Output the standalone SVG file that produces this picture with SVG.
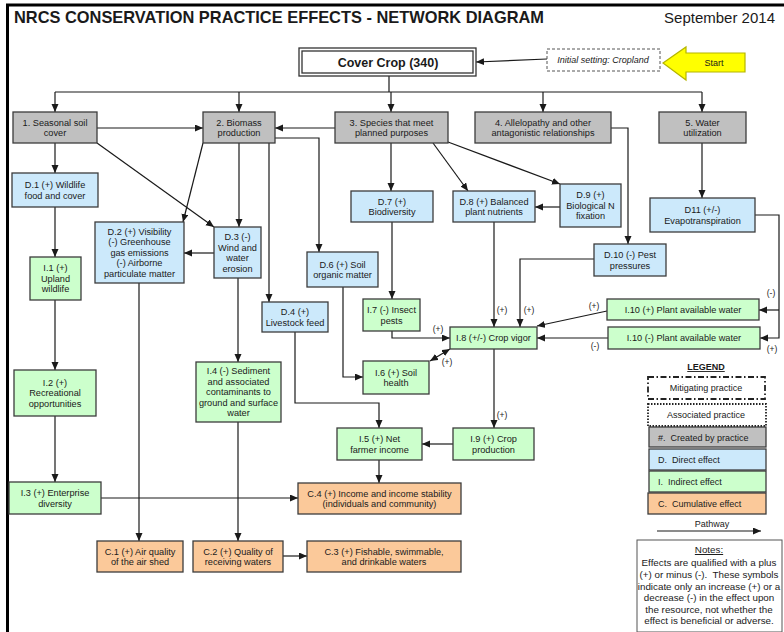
<svg xmlns="http://www.w3.org/2000/svg" width="784" height="632" viewBox="0 0 784 632">
<style>
text{font-family:"Liberation Sans",Arial,sans-serif;fill:#1a1a1a}
.t{font-size:9.2px;text-anchor:middle}
.box{stroke:#3c3c3c;stroke-width:1.3}
.g{fill:#c0c0c0}.b{fill:#cce9fb}.n{fill:#ccffcc}.o{fill:#fbc99a}
.c{fill:none;stroke:#1a1a1a;stroke-width:1.2}
.a{marker-end:url(#ah)}
.lbl{font-size:8.5px;text-anchor:middle}
.lg{font-size:9px}
.nt{font-size:9.8px;text-anchor:middle}
</style>
<defs>
<marker id="ah" markerUnits="userSpaceOnUse" markerWidth="9" markerHeight="8" refX="8" refY="3.5" orient="auto-start-reverse">
<path d="M0,0 L8,3.5 L0,7 z" fill="#1a1a1a"/>
</marker>
</defs>
<rect width="784" height="632" fill="#ffffff"/>
<g id="frame" fill="none" stroke="#000" stroke-width="3">
<line x1="6" y1="5" x2="784" y2="5"/>
<line x1="7.5" y1="4" x2="7.5" y2="632"/>
</g>
<g id="title">
<text x="14" y="23" style="font-size:16.4px;font-weight:bold">NRCS CONSERVATION PRACTICE EFFECTS - NETWORK DIAGRAM</text>
<text x="775" y="23" style="font-size:15px;text-anchor:end">September 2014</text>
</g>
<g id="connectors">
<path class="c a" d="M547,59 L476,62"/>
<path class="c" d="M389,76 V92 M55,92 H702"/>
<path class="c a" d="M55,92 V112"/>
<path class="c a" d="M239,92 V112"/>
<path class="c a" d="M391,92 V112"/>
<path class="c a" d="M543,92 V112"/>
<path class="c a" d="M702,92 V112"/>
<path class="c a" d="M97,128 H203"/>
<path class="c a" d="M335,128 H275"/>
<path class="c a" d="M55,143 V173"/>
<path class="c a" d="M97,143 L214,227"/>
<path class="c a" d="M203,143 L183,222"/>
<path class="c a" d="M239,143 V227"/>
<path class="c a" d="M269,143 V302"/>
<path class="c a" d="M275,138 H319 V252"/>
<path class="c a" d="M391,143 V191"/>
<path class="c a" d="M433,143 L468,191"/>
<path class="c a" d="M448,142 L560,184"/>
<path class="c a" d="M560,207 H535"/>
<path class="c a" d="M611,128 H628 V244"/>
<path class="c a" d="M702,143 V198"/>
<path class="c a" d="M755,215 H779 V338 H760"/>
<path class="c a" d="M779,310 H759"/>
<path class="c a" d="M607,311 L537,326"/>
<path class="c a" d="M608,338 H537"/>
<path class="c a" d="M594,259 H520 V327"/>
<path class="c a" d="M494,222 V327"/>
<path class="c a" d="M392,222 V299"/>
<path class="c a" d="M392,331 V338 H450"/>
<path class="c a" d="M430,361 L450,349" style="marker-start:url(#ah)"/>
<path class="c a" d="M343,287 V377 H363"/>
<path class="c a" d="M295,332 V403 H379 V428"/>
<path class="c a" d="M494,349 V428"/>
<path class="c a" d="M453,444 H422"/>
<path class="c a" d="M379,460 V483"/>
<path class="c a" d="M101,498 H298"/>
<path class="c a" d="M55,207 V257"/>
<path class="c a" d="M55,300 V370"/>
<path class="c a" d="M55,416 V482"/>
<path class="c a" d="M139,283 V541"/>
<path class="c a" d="M238,278 V362"/>
<path class="c a" d="M238,422 V541"/>
<path class="c a" d="M283,556 H307"/>
<path class="c a" d="M214,253 H184"/>
</g>
<g id="edge-labels" class="lbl">
<text class="lbl" x="502" y="313">(+)</text>
<text class="lbl" x="529" y="313">(+)</text>
<text class="lbl" x="438" y="332">(+)</text>
<text class="lbl" x="447" y="365">(+)</text>
<text class="lbl" x="594" y="309">(+)</text>
<text class="lbl" x="595" y="349">(-)</text>
<text class="lbl" x="771" y="296">(-)</text>
<text class="lbl" x="772" y="352">(+)</text>
<text class="lbl" x="502" y="418">(+)</text>
</g>
<g id="cover-crop">
<rect x="299" y="48" width="177" height="28" fill="#fff" stroke="#333" stroke-width="1.3"/>
<rect x="302" y="51" width="171" height="22" fill="none" stroke="#333" stroke-width="1.3"/>
<text x="388" y="66.5" style="font-size:12.5px;font-weight:bold;text-anchor:middle">Cover Crop (340)</text>
</g>
<g id="initial-setting">
<rect x="547" y="49" width="113" height="22" fill="#fff" stroke="#555" stroke-width="1" stroke-dasharray="3,2"/>
<text x="603" y="63" style="font-size:9px;font-style:italic;text-anchor:middle">Initial setting: Cropland</text>
</g>
<g id="start">
<polygon points="663,63 686,47 686,53 745,53 745,72 686,72 686,80" fill="#ffff00" stroke="#b5b500" stroke-width="1.2"/>
<text x="714" y="66" style="font-size:9px;text-anchor:middle">Start</text>
</g>
<g id="n1"><rect class="box g" x="13" y="112" width="84" height="31"/><text class="t" x="55" y="125.5">1. Seasonal soil</text><text class="t" x="55" y="136">cover</text></g>
<g id="n2"><rect class="box g" x="203" y="112" width="72" height="31"/><text class="t" x="239" y="125.5">2. Biomass</text><text class="t" x="239" y="136">production</text></g>
<g id="n3"><rect class="box g" x="335" y="112" width="113" height="31"/><text class="t" x="391.5" y="125.5">3. Species that meet</text><text class="t" x="391.5" y="136">planned purposes</text></g>
<g id="n4"><rect class="box g" x="475" y="112" width="136" height="31"/><text class="t" x="543" y="125.5">4. Allelopathy and other</text><text class="t" x="543" y="136">antagonistic relationships</text></g>
<g id="n5"><rect class="box g" x="659" y="112" width="87" height="31"/><text class="t" x="702.5" y="125.5">5. Water</text><text class="t" x="702.5" y="136">utilization</text></g>
<g id="d1"><rect class="box b" x="12" y="173" width="86" height="34"/><text class="t" x="55" y="188">D.1 (+) Wildlife</text><text class="t" x="55" y="198.5">food and cover</text></g>
<g id="d2"><rect class="box b" x="95" y="222" width="89" height="61"/><text class="t" x="139.5" y="234.8">D.2 (+) Visibility</text><text class="t" x="139.5" y="245.3">(-) Greenhouse</text><text class="t" x="139.5" y="255.8">gas emissions</text><text class="t" x="139.5" y="266.3">(-) Airborne</text><text class="t" x="139.5" y="276.8">particulate matter</text></g>
<g id="d3"><rect class="box b" x="214" y="227" width="47" height="51"/><text class="t" x="237.5" y="240">D.3 (-)</text><text class="t" x="237.5" y="250.5">Wind and</text><text class="t" x="237.5" y="261">water</text><text class="t" x="237.5" y="271.5">erosion</text></g>
<g id="d4"><rect class="box b" x="262" y="302" width="66" height="30"/><text class="t" x="295" y="315">D.4 (+)</text><text class="t" x="295" y="325.5">Livestock feed</text></g>
<g id="d6"><rect class="box b" x="307" y="252" width="71" height="35"/><text class="t" x="342.5" y="267.5">D.6 (+) Soil</text><text class="t" x="342.5" y="278">organic matter</text></g>
<g id="d7"><rect class="box b" x="351" y="191" width="82" height="31"/><text class="t" x="392" y="204.5">D.7 (+)</text><text class="t" x="392" y="215">Biodiversity</text></g>
<g id="d8"><rect class="box b" x="453" y="191" width="82" height="31"/><text class="t" x="494" y="204.5">D.8 (+) Balanced</text><text class="t" x="494" y="215">plant nutrients</text></g>
<g id="d9"><rect class="box b" x="560" y="184" width="61" height="43"/><text class="t" x="590.5" y="198.3">D.9 (+)</text><text class="t" x="590.5" y="208.8">Biological N</text><text class="t" x="590.5" y="219.3">fixation</text></g>
<g id="d10"><rect class="box b" x="594" y="244" width="72" height="32"/><text class="t" x="630" y="258">D.10 (-) Pest</text><text class="t" x="630" y="268.5">pressures</text></g>
<g id="d11"><rect class="box b" x="650" y="198" width="105" height="34"/><text class="t" x="702.5" y="213">D11 (+/-)</text><text class="t" x="702.5" y="223.5">Evapotranspiration</text></g>
<g id="i1"><rect class="box n" x="30" y="257" width="51" height="43"/><text class="t" x="55.5" y="271.3">I.1 (+)</text><text class="t" x="55.5" y="281.8">Upland</text><text class="t" x="55.5" y="292.3">wildlife</text></g>
<g id="i2"><rect class="box n" x="14" y="370" width="82" height="46"/><text class="t" x="55" y="385.8">I.2 (+)</text><text class="t" x="55" y="396.3">Recreational</text><text class="t" x="55" y="406.8">opportunities</text></g>
<g id="i3"><rect class="box n" x="9" y="482" width="92" height="32"/><text class="t" x="55" y="496">I.3 (+) Enterprise</text><text class="t" x="55" y="506.5">diversity</text></g>
<g id="i4"><rect class="box n" x="196" y="362" width="85" height="60"/><text class="t" x="238.5" y="374.3">I.4 (-) Sediment</text><text class="t" x="238.5" y="384.8">and associated</text><text class="t" x="238.5" y="395.3">contaminants to</text><text class="t" x="238.5" y="405.8">ground and surface</text><text class="t" x="238.5" y="416.3">water</text></g>
<g id="i5"><rect class="box n" x="337" y="428" width="85" height="32"/><text class="t" x="379.5" y="442">I.5 (+) Net</text><text class="t" x="379.5" y="452.5">farmer income</text></g>
<g id="i6"><rect class="box n" x="363" y="361" width="66" height="33"/><text class="t" x="396" y="375.5">I.6 (+) Soil</text><text class="t" x="396" y="386">health</text></g>
<g id="i7"><rect class="box n" x="363" y="299" width="57" height="32"/><text class="t" x="391.5" y="313">I.7 (-) Insect</text><text class="t" x="391.5" y="323.5">pests</text></g>
<g id="i8"><rect class="box n" x="450" y="327" width="87" height="22"/><text class="t" x="493.5" y="341.3">I.8 (+/-) Crop vigor</text></g>
<g id="i9"><rect class="box n" x="453" y="428" width="81" height="32"/><text class="t" x="493.5" y="442">I.9 (+) Crop</text><text class="t" x="493.5" y="452.5">production</text></g>
<g id="i10p"><rect class="box n" x="607" y="299" width="152" height="21"/><text class="t" x="683" y="312.8">I.10 (+) Plant available water</text></g>
<g id="i10m"><rect class="box n" x="608" y="327" width="152" height="22"/><text class="t" x="684" y="341.3">I.10 (-) Plant available water</text></g>
<g id="c1"><rect class="box o" x="97" y="541" width="86" height="31"/><text class="t" x="140" y="554.5">C.1 (+) Air quality</text><text class="t" x="140" y="565">of the air shed</text></g>
<g id="c2"><rect class="box o" x="193" y="541" width="90" height="31"/><text class="t" x="238" y="554.5">C.2 (+) Quality of</text><text class="t" x="238" y="565">receiving waters</text></g>
<g id="c3"><rect class="box o" x="307" y="541" width="154" height="31"/><text class="t" x="384" y="554.5">C.3 (+) Fishable, swimmable,</text><text class="t" x="384" y="565">and drinkable waters</text></g>
<g id="c4"><rect class="box o" x="298" y="483" width="163" height="31"/><text class="t" x="379.5" y="496.5">C.4 (+) Income and income stability</text><text class="t" x="379.5" y="507">(individuals and community)</text></g>
<g id="legend">
<text x="706" y="370" style="font-size:9px;font-weight:bold;text-anchor:middle;text-decoration:underline">LEGEND</text>
<rect x="648" y="377" width="117" height="22" fill="#fff" stroke="#222" stroke-width="1.8" stroke-dasharray="6,2.5,1.5,2.5"/>
<text class="lg" x="706" y="391" text-anchor="middle">Mitigating practice</text>
<rect x="648" y="404" width="118" height="22" fill="#fff" stroke="#222" stroke-width="1.8" stroke-dasharray="1.5,1.5"/>
<text class="lg" x="706" y="418" text-anchor="middle">Associated practice</text>
<rect class="box g" x="649" y="427" width="117" height="20"/>
<text class="lg" x="658" y="440.5" xml:space="preserve">#.  Created by practice</text>
<rect class="box b" x="649" y="449" width="117" height="21"/>
<text class="lg" x="658" y="463" xml:space="preserve">D.  Direct effect</text>
<rect class="box n" x="649" y="471" width="117" height="21"/>
<text class="lg" x="658" y="485" xml:space="preserve">I.  Indirect effect</text>
<rect class="box o" x="648" y="493" width="118" height="21"/>
<text class="lg" x="658" y="507" xml:space="preserve">C.  Cumulative effect</text>
<text class="lg" x="712" y="527" text-anchor="middle">Pathway</text>
<path class="c a" d="M657,531 H761"/>
</g>
<g id="notes">
<rect x="637" y="540" width="145" height="92" fill="#fff" stroke="#555" stroke-width="1"/>
<text class="nt" x="709" y="553" style="text-decoration:underline">Notes:</text>
<text class="nt" x="709" y="566">Effects are qualified with a plus</text>
<text class="nt" x="709" y="578" xml:space="preserve">(+) or minus (-).  These symbols</text>
<text class="nt" x="709" y="590">indicate only an increase (+) or a</text>
<text class="nt" x="709" y="601">decrease (-) in the effect upon</text>
<text class="nt" x="709" y="613">the resource, not whether the</text>
<text class="nt" x="709" y="624">effect is beneficial or adverse.</text>
</g>
</svg>
